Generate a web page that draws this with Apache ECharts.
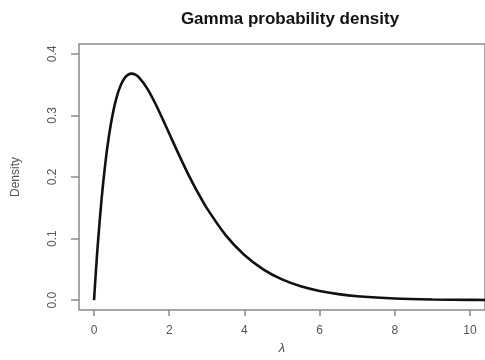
<!DOCTYPE html>
<html>
<head>
<meta charset="utf-8">
<script src="https://cdn.jsdelivr.net/npm/echarts@6/dist/echarts.min.js"></script>
<style>
  html, body { margin: 0; padding: 0; background: #fff; }
  #chart { width: 485px; height: 360px; }
</style>
</head>
<body>
<div id="chart"></div>
<script>
// values
const lambdaValues = [0, 0.05, 0.1, 0.2, 0.3, 0.4, 0.5, 0.6, 0.7, 0.8, 0.9, 1.0, 1.1, 1.2, 1.4, 1.6, 1.8, 2.0, 2.25, 2.5, 2.75, 3.0, 3.5, 4.0, 4.5, 5.0, 5.5, 6.0, 6.5, 7.0, 8.0, 9.0, 10.0, 10.4];
const densityValues = [0, 0.0476, 0.0905, 0.1637, 0.2222, 0.2681, 0.3033, 0.3293, 0.3476, 0.3595, 0.3659, 0.3679, 0.3662, 0.3614, 0.3452, 0.3230, 0.2975, 0.2707, 0.2371, 0.2052, 0.1760, 0.1494, 0.1057, 0.0733, 0.0500, 0.0337, 0.0225, 0.0149, 0.0098, 0.0064, 0.0027, 0.0011, 0.0005, 0.0003];
const xTicks = [0, 2, 4, 6, 8, 10];
const yTicks = [0, 0.1, 0.2, 0.3, 0.4];

const chart = echarts.init(document.getElementById('chart'));

const font = 'Liberation Sans, Arial, sans-serif';

chart.setOption({
  animation: false,
  title: {
    text: 'Gamma probability density',
    left: 285,
    top: 6,
    textAlign: 'center',
    textStyle: { fontFamily: font, fontSize: 17, fontWeight: 'bold', color: '#111' }
  },
  grid: {
    show: true,
    left: 79,
    top: 44,
    width: 412,
    height: 273,
    borderColor: '#8a8a8a',
    borderWidth: 1.5,
    backgroundColor: 'transparent'
  },
  xAxis: {
    type: 'value',
    min: -0.4,
    max: 10.4,
    name: 'λ',
    nameLocation: 'middle',
    nameGap: 32,
    nameTextStyle: { fontFamily: font, fontSize: 13, color: '#555', fontStyle: 'italic' },
    axisLine: { show: false, onZero: false },
    splitLine: { show: false },
    axisTick: { show: true, length: 6, customValues: xTicks, lineStyle: { color: '#8a8a8a', width: 1.5 } },
    axisLabel: {
      customValues: xTicks,
      margin: 15,
      fontFamily: font,
      fontSize: 12,
      color: '#555'
    }
  },
  yAxis: {
    type: 'value',
    min: -0.016,
    max: 0.416,
    name: 'Density',
    nameLocation: 'middle',
    nameGap: 57,
    nameRotate: 90,
    nameTextStyle: { fontFamily: font, fontSize: 12, color: '#555' },
    axisLine: { show: false, onZero: false },
    splitLine: { show: false },
    axisTick: { show: true, length: 8, customValues: yTicks, lineStyle: { color: '#8a8a8a', width: 1.5 } },
    axisLabel: {
      customValues: yTicks,
      rotate: 90,
      margin: 20,
      fontFamily: font,
      fontSize: 12,
      color: '#555',
      formatter: v => v.toFixed(1)
    }
  },
  series: [{
    type: 'line',
    data: lambdaValues.map((x, i) => [x, densityValues[i]]),
    smooth: 0.3,
    symbol: 'none',
    clip: true,
    lineStyle: { color: '#111', width: 2.6 }
  }]
});
</script>
</body>
</html>
